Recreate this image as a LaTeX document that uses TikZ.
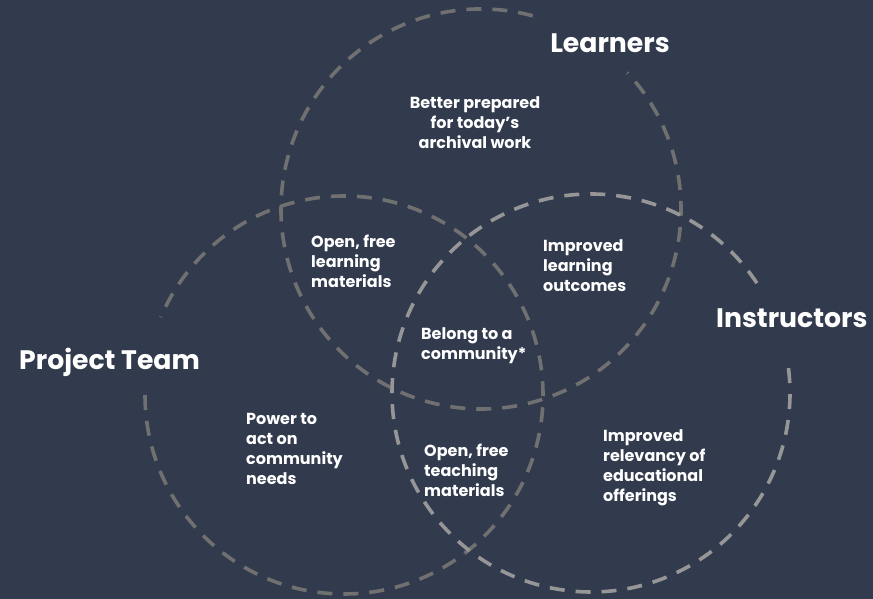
\documentclass[tikz,border=0pt]{standalone}
\usepackage{fontspec}
\usetikzlibrary{calc}
\setmainfont{Poppins}
\definecolor{bgc}{RGB}{50,58,77}
\definecolor{ringdark}{RGB}{112,112,112}
\definecolor{ringlight}{RGB}{150,150,150}
\tikzset{
  ring/.style={line width=3.6pt, dash pattern=on 15pt off 11pt},
  title/.style={text=white, font=\fontsize{26.7}{30}\selectfont\bfseries, inner sep=0pt},
  body/.style={text=white, font=\fontsize{16}{20}\selectfont\bfseries, inner sep=0pt, align=left, anchor=west},
}
\begin{document}
\begin{tikzpicture}[x=1pt,y=1pt]
\fill[bgc] (0,0) rectangle (873,599);
\useasboundingbox (0,0) rectangle (873,599);
\coordinate (cL) at (481,390);
\coordinate (cP) at (344,204);
\coordinate (cI) at (591,206);
% Learners circle
\draw[ring, ringdark] ($(cL)+(75:200)$) arc[start angle=75, end angle=403, radius=200];
% Project Team circle
\draw[ring, ringdark] ($(cP)+(180:199)$) arc[start angle=180, end angle=517, radius=199];
% Instructors circle
\draw[ring, ringlight] ($(cI)+(33.5:199)$) arc[start angle=33.5, end angle=369, radius=199];
% titles
\node[title] (learners) at (610,556) {Learners};
\node[title, anchor=west] (instructors) at (716,281) {Instructors};
\node[title, anchor=west] (team) at (19,236.5) {Project Team};
% region texts
\node[body, align=center, anchor=center] (better) at (475,476) {Better prepared\\for today’s\\archival work};
\node[body] (openlearn) at (311,338) {Open, free\\learning\\materials};
\node[body] (outcomes) at (543,333) {Improved\\learning\\outcomes};
\node[body] (belong) at (421,253) {Belong to a\\community*};
\node[body] (power) at (246,150) {Power to\\act on\\community\\needs};
\node[body] (openteach) at (424,129) {Open, free\\teaching\\materials};
\node[body] (relevancy) at (603,131) {Improved\\relevancy of\\educational\\offerings};
\end{tikzpicture}
\end{document}
